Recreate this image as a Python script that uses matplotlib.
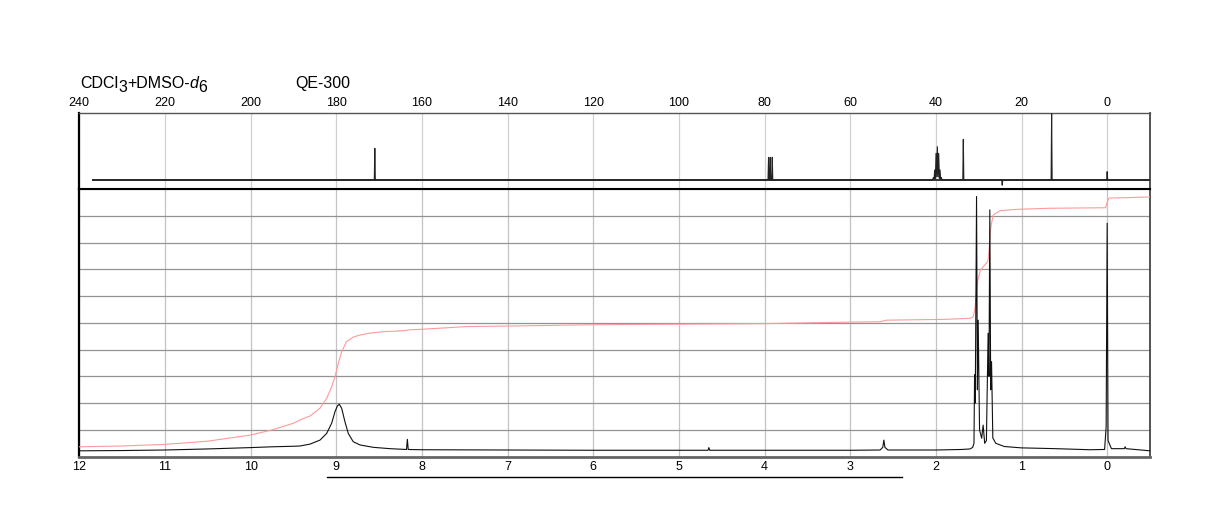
import matplotlib
matplotlib.use('Agg')
import matplotlib.pyplot as plt
import matplotlib.transforms as mtransforms

plt.rcParams['font.family'] = ['Liberation Sans', 'DejaVu Sans']

# ---------------- data ----------------
# 1H spectrum: chemical shift (ppm) and relative intensity (0..1 of panel)
h1_ppm = [12.0, 11.5, 11.0, 10.5, 10.0, 9.75, 9.5, 9.424, 9.307, 9.19, 9.112,
          9.054, 9.015, 8.988, 8.965, 8.937, 8.899, 8.86, 8.802, 8.724, 8.568,
          8.373, 8.18, 8.17, 8.16, 8.0, 7.0, 6.0, 5.0, 4.66, 4.65, 4.64, 4.0,
          3.0, 2.65, 2.62, 2.607, 2.595, 2.56, 2.0, 1.7, 1.6, 1.57, 1.555,
          1.548, 1.54, 1.525, 1.515, 1.506, 1.49, 1.465, 1.448, 1.43, 1.41,
          1.39, 1.38, 1.37, 1.36, 1.35, 1.335, 1.3, 1.2, 1.0, 0.6, 0.2, 0.03,
          0.012, 0.0, -0.01, -0.05, -0.2, -0.21, -0.22, -0.5]
h1_int = [0.022, 0.023, 0.025, 0.029, 0.034, 0.037, 0.039, 0.040, 0.047, 0.062,
          0.087, 0.125, 0.168, 0.189, 0.196, 0.181, 0.131, 0.087, 0.056, 0.044,
          0.035, 0.030, 0.027, 0.065, 0.027, 0.026, 0.025, 0.024, 0.024, 0.024,
          0.034, 0.024, 0.024, 0.024, 0.025, 0.035, 0.062, 0.035, 0.025, 0.025,
          0.027, 0.029, 0.035, 0.050, 0.306, 0.200, 0.972, 0.250, 0.510, 0.100,
          0.069, 0.118, 0.050, 0.060, 0.461, 0.300, 0.922, 0.250, 0.355, 0.070,
          0.050, 0.038, 0.033, 0.030, 0.026, 0.027, 0.112, 0.872, 0.060, 0.030,
          0.030, 0.037, 0.030, 0.022]

# 1H integral curve
integ_ppm = [12.0, 11.5, 11.0, 10.5, 10.0, 9.75, 9.5, 9.424, 9.307, 9.19, 9.112,
             9.054, 9.015, 8.976, 8.937, 8.88, 8.8, 8.72, 8.6, 8.45, 8.2, 8.15,
             8.0, 7.48, 7.0, 6.0, 5.0, 4.02, 3.16, 2.65, 2.58, 1.9, 1.6, 1.564,
             1.545, 1.525, 1.51, 1.48, 1.44, 1.396, 1.385, 1.375, 1.365, 1.35,
             1.33, 1.25, 1.06, 0.67, 0.02, 0.0, -0.02, -0.5]
integ_val = [0.037, 0.040, 0.046, 0.058, 0.081, 0.100, 0.125, 0.137, 0.152,
             0.181, 0.218, 0.261, 0.299, 0.349, 0.392, 0.430, 0.447, 0.455,
             0.462, 0.467, 0.471, 0.474, 0.476, 0.486, 0.488, 0.493, 0.495,
             0.497, 0.502, 0.504, 0.510, 0.513, 0.517, 0.523, 0.550, 0.620,
             0.660, 0.697, 0.712, 0.728, 0.747, 0.790, 0.840, 0.872, 0.903,
             0.919, 0.924, 0.928, 0.930, 0.950, 0.966, 0.970]

# 13C spectrum
c13_ppm = [236.9, 171.12, 171.0, 170.88, 79.19, 79.07, 78.95, 78.79, 78.67,
           78.55, 78.32, 78.2, 78.08, 40.8, 40.58, 40.42, 40.27, 40.11, 39.96,
           39.8, 39.65, 39.5, 39.34, 39.18, 39.03, 38.88, 38.72, 38.5, 33.71,
           33.59, 33.47, 24.62, 24.5, 24.38, 13.09, 12.97, 12.85, 0.12, 0.0,
           -0.12, -10.0]
c13_int = [0.118, 0.118, 0.533, 0.118, 0.118, 0.415, 0.118, 0.118, 0.415,
           0.118, 0.118, 0.415, 0.118, 0.118, 0.150, 0.130, 0.250, 0.140, 0.468,
           0.160, 0.554, 0.160, 0.468, 0.140, 0.250, 0.130, 0.150, 0.118, 0.118,
           0.651, 0.118, 0.118, 0.050, 0.118, 0.118, 0.990, 0.118, 0.118, 0.227,
           0.118, 0.118]
c13_base = 0.118

h1_ticks = [12, 11, 10, 9, 8, 7, 6, 5, 4, 3, 2, 1, 0]
c13_ticks = [240, 220, 200, 180, 160, 140, 120, 100, 80, 60, 40, 20, 0]
underline_ppm = [9.11, 2.39]

# ---------------- layout ----------------
W, H = 1224, 528
fig = plt.figure(figsize=(W / 100, H / 100), dpi=100)
x0, x1 = 79.3, 1150.0
y_top, y_div, y_bot = 112.7, 189.0, 456.7
axb = fig.add_axes([x0 / W, (H - y_bot) / H, (x1 - x0) / W, (y_bot - y_div) / H])
axt = fig.add_axes([x0 / W, (H - y_div) / H, (x1 - x0) / W, (y_div - y_top) / H])

# ---------------- bottom (1H) panel ----------------
axb.set_xlim(12, -0.5)
axb.set_ylim(0, 1)
axb.set_xticks(h1_ticks)
axb.set_xticklabels([str(t) for t in h1_ticks])
axb.set_yticks([i / 10 for i in range(1, 10)])
axb.set_yticklabels([])
axb.tick_params(axis='both', length=0)
axb.tick_params(axis='x', pad=3, labelsize=9)
axb.set_axisbelow(True)
axb.xaxis.grid(True, color='#c4c4c4', lw=0.9)
axb.yaxis.grid(True, color='#939393', lw=0.9)
axb.plot(integ_ppm, integ_val, color='#ff9a9a', lw=0.8, zorder=3)
axb.plot(h1_ppm, h1_int, color='#111111', lw=0.8, zorder=4)
axb.spines['left'].set_color('black'); axb.spines['left'].set_linewidth(1.6)
axb.spines['right'].set_color('#444444'); axb.spines['right'].set_linewidth(1.3)
axb.spines['bottom'].set_color('#666666'); axb.spines['bottom'].set_linewidth(2.0)
axb.spines['top'].set_color('black'); axb.spines['top'].set_linewidth(1.5)

trans = mtransforms.blended_transform_factory(axb.transData, axb.transAxes)
axb.plot(underline_ppm, [-0.075, -0.075], color='black', lw=1.0,
         transform=trans, clip_on=False)

# ---------------- top (13C) panel ----------------
axt.set_xlim(240, -10)
axt.set_ylim(0, 1)
axt.xaxis.tick_top()
axt.set_xticks(c13_ticks)
axt.set_xticklabels([str(t) for t in c13_ticks])
axt.set_yticks([])
axt.tick_params(axis='x', length=0, pad=3, labelsize=9)
axt.set_axisbelow(True)
axt.xaxis.grid(True, color='#d0d0d0', lw=0.9)
axt.plot([c13_ppm[0], c13_ppm[-1]], [c13_base, c13_base], color='#333333',
         lw=1.4, zorder=3)
axt.plot(c13_ppm, c13_int, color='#222222', lw=0.8, zorder=4)
axt.spines['left'].set_color('black'); axt.spines['left'].set_linewidth(1.6)
axt.spines['right'].set_color('#444444'); axt.spines['right'].set_linewidth(1.3)
axt.spines['top'].set_color('#555555'); axt.spines['top'].set_linewidth(1.0)
axt.spines['bottom'].set_color('black'); axt.spines['bottom'].set_linewidth(1.5)

# ---------------- header text ----------------
fs = 11.5
yb = (H - 90.7) / H
t1 = fig.text(80 / W, yb, 'CDCl', fontsize=fs, va='bottom', ha='left')
t2 = fig.text(0, 0, '3', fontsize=fs, va='bottom', ha='left')
t3 = fig.text(0, 0, '+DMSO-', fontsize=fs, va='bottom', ha='left')
t4 = fig.text(0, 0, 'd', fontsize=fs, va='bottom', ha='left', style='italic')
t5 = fig.text(0, 0, '6', fontsize=fs, va='bottom', ha='left')
fig.canvas.draw()
r = fig.canvas.get_renderer()

def place_after(prev, cur, dy_px):
    bb = prev.get_window_extent(r)
    x = bb.x1 / W
    y = (bb.y0 + dy_px) / H
    cur.set_position((x, y))
    fig.canvas.draw()

place_after(t1, t2, -4.3)
place_after(t2, t3, 4.3)
place_after(t3, t4, 0)
place_after(t4, t5, -4.3)
fig.text(295 / W, yb, 'QE-300', fontsize=fs, va='bottom', ha='left')

fig.savefig('out.png', dpi=100)
